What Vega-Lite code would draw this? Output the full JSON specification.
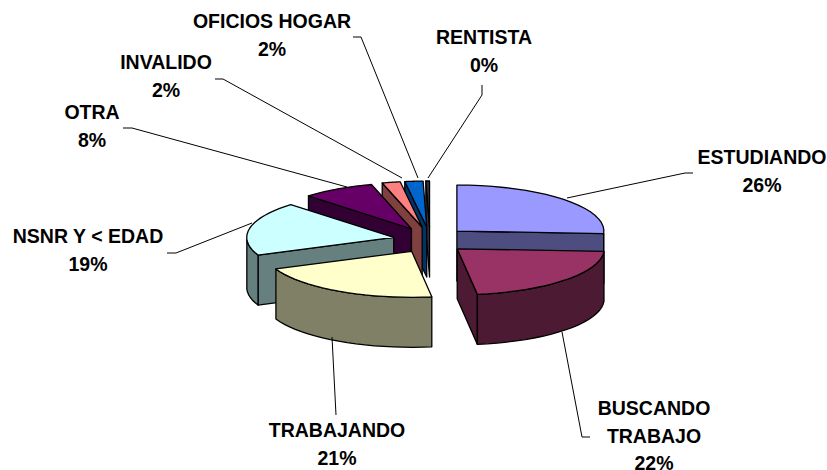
{"$schema":"https://vega.github.io/schema/vega-lite/v6.json","width":827,"height":470,"autosize":{"type":"none"},"padding":0,"background":"white","view":{"stroke":null},
"data":{"values":[
{"orden":8,"nombre":"RENTISTA","etiqueta":"RENTISTA","valor":0.4},
{"orden":7,"nombre":"OFICIOS HOGAR","etiqueta":"OFICIOS HOGAR","valor":2},
{"orden":6,"nombre":"INVALIDO","etiqueta":"INVALIDO","valor":2},
{"orden":5,"nombre":"OTRA","etiqueta":"OTRA","valor":8},
{"orden":4,"nombre":"NSNR Y < EDAD","etiqueta":"NSNR Y < EDAD","valor":19},
{"orden":1,"nombre":"ESTUDIANDO","etiqueta":"ESTUDIANDO","valor":26},
{"orden":3,"nombre":"TRABAJANDO","etiqueta":"TRABAJANDO","valor":21},
{"orden":2,"nombre":"BUSCANDO TRABAJO","etiqueta":"BUSCANDO\nTRABAJO","valor":22}
]},
"transform":[
{"joinaggregate":[{"op":"sum","field":"valor","as":"total"}]},
{"window":[{"op":"sum","field":"valor","as":"acum"}],"sort":[{"field":"orden","order":"ascending"}]},
{"calculate":"datum.acum/datum.total*2*PI","as":"a1"},
{"calculate":"datum.a1-datum.valor/datum.total*2*PI","as":"a0"},
{"calculate":"(datum.a0+datum.a1)/2","as":"mid"},
{"calculate":"430+37*sin(datum.mid)","as":"cx"},
{"calculate":"240-13*cos(datum.mid)","as":"cy"}
],
"resolve":{"scale":{"fill":"independent"}},
"layer":[
{"transform":[
{"calculate":"[[0,-1,0],[0,0,0],[0,0,1],[0,-1,1],[0,-1,0],[1,-1,0],[1,1,0],[1,1,1],[1,-1,1],[1,-1,0],[2,0,0],[2,0.05,0],[2,0.1,0],[2,0.15,0],[2,0.2,0],[2,0.25,0],[2,0.3,0],[2,0.35,0],[2,0.4,0],[2,0.45,0],[2,0.5,0],[2,0.55,0],[2,0.6,0],[2,0.65,0],[2,0.7,0],[2,0.75,0],[2,0.8,0],[2,0.85,0],[2,0.9,0],[2,0.95,0],[2,1,0],[2,1,1],[2,0.95,1],[2,0.9,1],[2,0.85,1],[2,0.8,1],[2,0.75,1],[2,0.7,1],[2,0.65,1],[2,0.6,1],[2,0.55,1],[2,0.5,1],[2,0.45,1],[2,0.4,1],[2,0.35,1],[2,0.3,1],[2,0.25,1],[2,0.2,1],[2,0.15,1],[2,0.1,1],[2,0.05,1],[2,0,1],[2,0,0]]","as":"v"},
{"flatten":["v"]},
{"calculate":"datum.a0+datum.v[1]*(datum.a1-datum.a0)","as":"ang"},
{"filter":"datum.v[0]==0?sin(datum.a0)<-0.001:datum.v[0]==1?sin(datum.a1)>0.001:cos(datum.ang)<0.02"},
{"calculate":"datum.nombre+'-'+datum.v[0]","as":"grupo"},
{"window":[{"op":"row_number","as":"n"}],"groupby":["grupo"]},
{"calculate":"datum.v[1]<0?datum.cx:datum.cx+147*sin(datum.ang)","as":"px"},
{"calculate":"(datum.v[1]<0?datum.cy:datum.cy-46*cos(datum.ang))+50*datum.v[2]","as":"py"}
],
"mark":{"type":"line","filled":true,"stroke":"black","strokeWidth":1.3,"strokeJoin":"round"},
"encoding":{
"x":{"field":"px","type":"quantitative","scale":{"domain":[0,827],"nice":false,"zero":false},"axis":null},
"y":{"field":"py","type":"quantitative","scale":{"domain":[470,0],"nice":false,"zero":false},"axis":null},
"detail":{"field":"grupo"},
"order":{"field":"n"},
"fill":{"field":"nombre","type":"nominal","legend":null,"scale":{"domain":["ESTUDIANDO","BUSCANDO TRABAJO","TRABAJANDO","NSNR Y < EDAD","OTRA","INVALIDO","OFICIOS HOGAR","RENTISTA"],"range":["#4D4D80","#4D1A33","#808066","#668080","#330033","#804040","#003366","#333340"]}}
}},
{"transform":[
{"calculate":"[-1,0,0.05,0.1,0.15,0.2,0.25,0.3,0.35,0.4,0.45,0.5,0.55,0.6,0.65,0.7,0.75,0.8,0.85,0.9,0.95,1,2]","as":"t"},
{"flatten":["t"]},
{"calculate":"datum.a0+datum.t*(datum.a1-datum.a0)","as":"ang"},
{"calculate":"datum.t<0||datum.t>1?datum.cx:datum.cx+147*sin(datum.ang)","as":"px"},
{"calculate":"datum.t<0||datum.t>1?datum.cy:datum.cy-46*cos(datum.ang)","as":"py"}
],
"mark":{"type":"line","filled":true,"stroke":"black","strokeWidth":1.3,"strokeJoin":"round"},
"encoding":{
"x":{"field":"px","type":"quantitative","scale":{"domain":[0,827],"nice":false,"zero":false},"axis":null},
"y":{"field":"py","type":"quantitative","scale":{"domain":[470,0],"nice":false,"zero":false},"axis":null},
"detail":{"field":"nombre"},
"order":{"field":"t"},
"fill":{"field":"nombre","type":"nominal","legend":null,"scale":{"domain":["ESTUDIANDO","BUSCANDO TRABAJO","TRABAJANDO","NSNR Y < EDAD","OTRA","INVALIDO","OFICIOS HOGAR","RENTISTA"],"range":["#9999FF","#993366","#FFFFCC","#CCFFFF","#660066","#FF8080","#0066CC","#333340"]}}
}},
{"transform":[
{"calculate":"{'ESTUDIANDO':[[567,198,0],[685,173,1],[693,173,2]],'BUSCANDO TRABAJO':[[562,332,0],[582,437,1],[590,437,2]],'TRABAJANDO':[[332,337,0],[336,415,1]],'NSNR Y < EDAD':[[252,223,0],[176,253,1],[167,253,2]],'OTRA':[[347,187,0],[132,128,1],[123,128,2]],'INVALIDO':[[402,178,0],[223,79,1],[215,79,2]],'OFICIOS HOGAR':[[418,178,0],[361,37,1],[353,37,2]],'RENTISTA':[[428,178,0],[482,95,1],[482,85,2]]}[datum.nombre]","as":"g"},
{"flatten":["g"]},
{"calculate":"datum.g[0]","as":"gx"},
{"calculate":"datum.g[1]","as":"gy"},
{"calculate":"datum.g[2]","as":"gi"}
],
"mark":{"type":"line","stroke":"black","strokeWidth":1},
"encoding":{
"x":{"field":"gx","type":"quantitative","scale":{"domain":[0,827],"nice":false,"zero":false},"axis":null},
"y":{"field":"gy","type":"quantitative","scale":{"domain":[470,0],"nice":false,"zero":false},"axis":null},
"detail":{"field":"nombre"},
"order":{"field":"gi"}
}},
{"transform":[
{"calculate":"{'ESTUDIANDO':[762,158],'BUSCANDO TRABAJO':[654,409],'TRABAJANDO':[337,431],'NSNR Y < EDAD':[88,237],'OTRA':[92,113],'INVALIDO':[166,63],'OFICIOS HOGAR':[272,22],'RENTISTA':[484,38]}[datum.nombre]","as":"l"},
{"calculate":"datum.l[0]","as":"lx"},
{"calculate":"datum.l[1]","as":"ly"},
{"calculate":"datum.etiqueta+'\\n'+round(datum.valor/datum.total*100)+'%'","as":"texto"}
],
"mark":{"type":"text","font":"Liberation Sans","fontWeight":"bold","fontSize":19.5,"lineBreak":"\n","lineHeight":27.5,"align":"center","baseline":"middle","color":"black"},
"encoding":{
"x":{"field":"lx","type":"quantitative","scale":{"domain":[0,827],"nice":false,"zero":false},"axis":null},
"y":{"field":"ly","type":"quantitative","scale":{"domain":[470,0],"nice":false,"zero":false},"axis":null},
"text":{"field":"texto"}
}}
]}
